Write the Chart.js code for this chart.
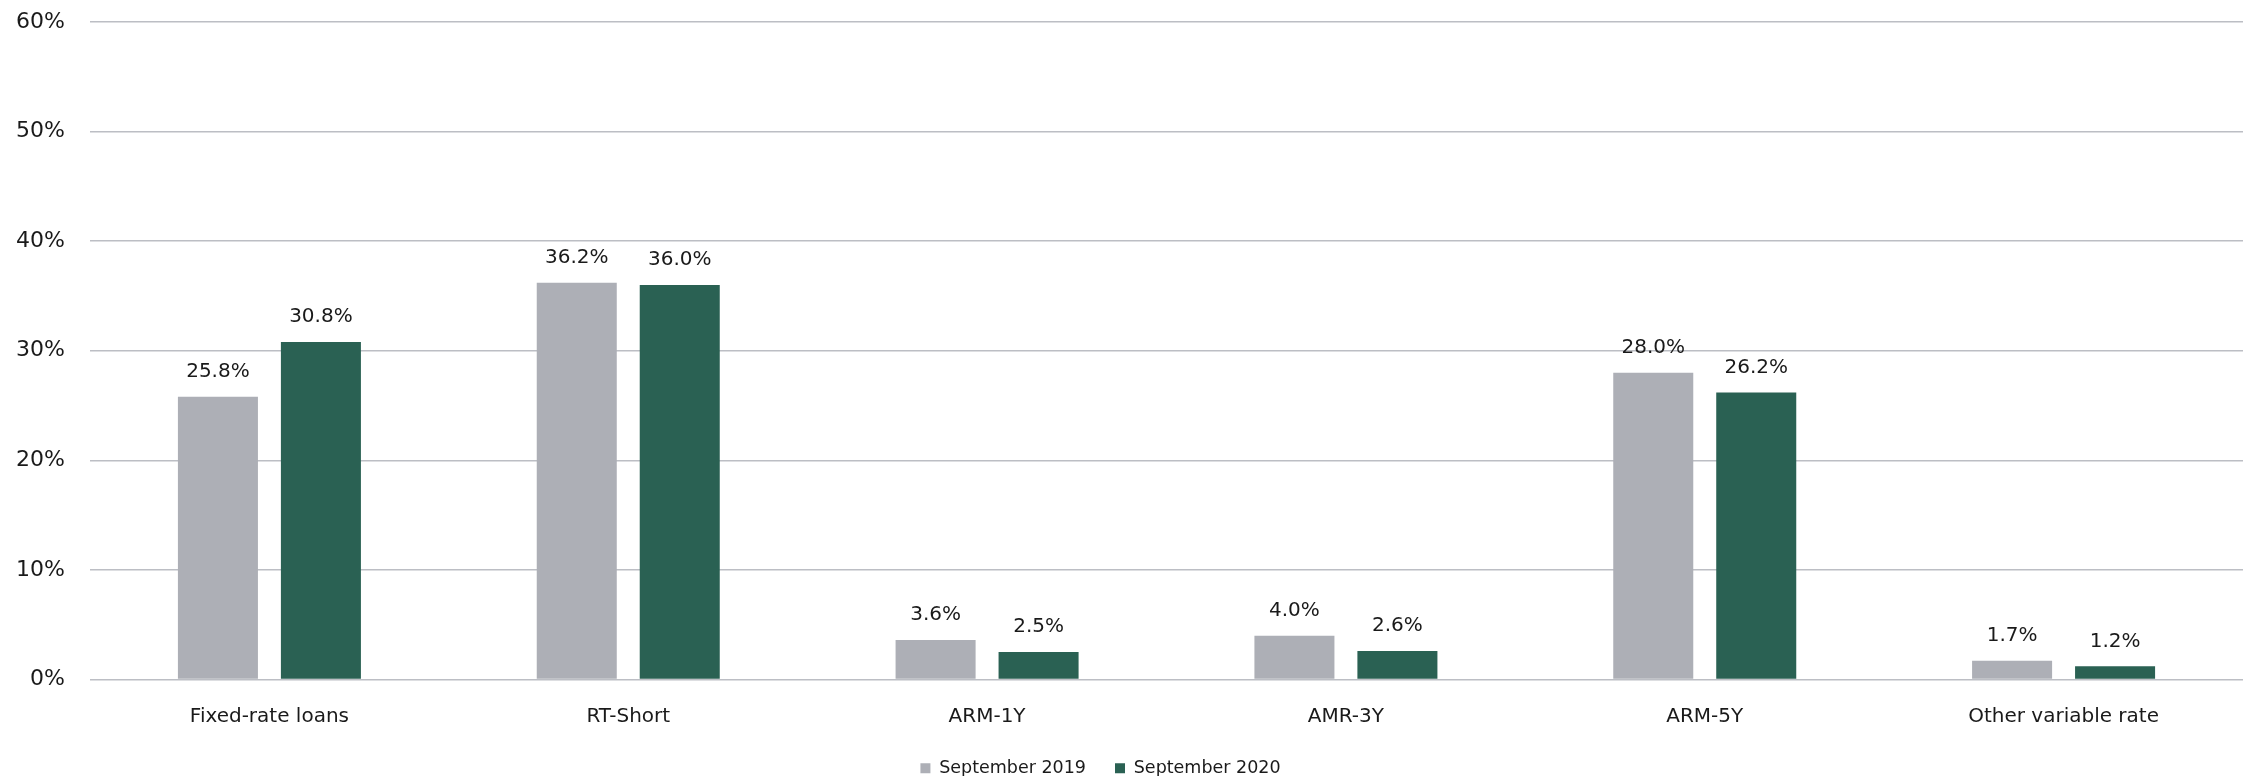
<!DOCTYPE html>
<html>
<head>
<meta charset="utf-8">
<script src="https://cdn.jsdelivr.net/npm/chart.js@4/dist/chart.umd.min.js"></script>
<style>
html,body{margin:0;padding:0;background:#fff;}
#wrap{width:2252px;height:776px;position:relative;}
</style>
</head>
<body>
<div id="wrap"><canvas id="c" width="2252" height="776"></canvas></div>
<script>
const categories = ["Fixed-rate loans", "RT-Short", "ARM-1Y", "AMR-3Y", "ARM-5Y", "Other variable rate"];
const seriesNames = ["September 2019", "September 2020"];
const sep2019 = [25.8, 36.2, 3.6, 4.0, 28.0, 1.7];
const sep2020 = [30.8, 36.0, 2.5, 2.6, 26.2, 1.2];
const yTicks = [0, 10, 20, 30, 40, 50, 60];

const FONT = "'DejaVu Sans', sans-serif";

const labelPlugin = {
  id: 'barLabels',
  afterDatasetsDraw(chart) {
    const ctx = chart.ctx;
    ctx.save();
    ctx.font = "20px " + FONT;
    ctx.fillStyle = '#1a1a1a';
    ctx.textAlign = 'center';
    ctx.textBaseline = 'middle';
    chart.data.datasets.forEach((ds, i) => {
      const meta = chart.getDatasetMeta(i);
      meta.data.forEach((bar, j) => {
        ctx.fillText(ds.data[j].toFixed(1) + '%', bar.x, bar.y - 25);
      });
    });
    ctx.restore();
  }
};

const legendShift = {
  id: 'legendShift',
  afterLayout(chart) {
    if (chart.legend) { chart.legend.left -= 29; chart.legend.right -= 29; }
  }
};

new Chart(document.getElementById('c'), {
  type: 'bar',
  data: {
    labels: categories,
    datasets: [
      { label: seriesNames[0], data: sep2019, backgroundColor: '#ADAFB6' },
      { label: seriesNames[1], data: sep2020, backgroundColor: '#2A6153' }
    ]
  },
  options: {
    responsive: false,
    animation: false,
    devicePixelRatio: 1,
    layout: { autoPadding: false, padding: { left: 16, right: 9, top: 22, bottom: -11 } },
    datasets: { bar: { categoryPercentage: 0.574, barPercentage: 0.777 } },
    plugins: {
      tooltip: { enabled: false },
      legend: {
        position: 'bottom',
        labels: {
          font: { family: FONT, size: 17.5 },
          color: '#1a1a1a',
          boxWidth: 10,
          boxHeight: 10,
          padding: 29
        }
      }
    },
    scales: {
      x: {
        grid: { display: false },
        border: { display: false },
        ticks: { font: { family: FONT, size: 20 }, color: '#1a1a1a', padding: 17 },
        afterFit(axis) { axis.height = 51; }
      },
      y: {
        min: 0, max: 60,
        afterBuildTicks(axis) { axis.ticks = yTicks.map(v => ({ value: v })); },
        grid: { color: '#BCBEC4', lineWidth: 1.5, drawTicks: false },
        border: { display: false },
        ticks: {
          font: { family: FONT, size: 22 },
          color: '#1a1a1a',
          padding: 25,
          callback: v => v + '%'
        },
        afterFit(axis) { axis.width = 74; axis.paddingTop = 0; axis.paddingBottom = 0; }
      }
    }
  },
  plugins: [labelPlugin, legendShift]
});
</script>
</body>
</html>
